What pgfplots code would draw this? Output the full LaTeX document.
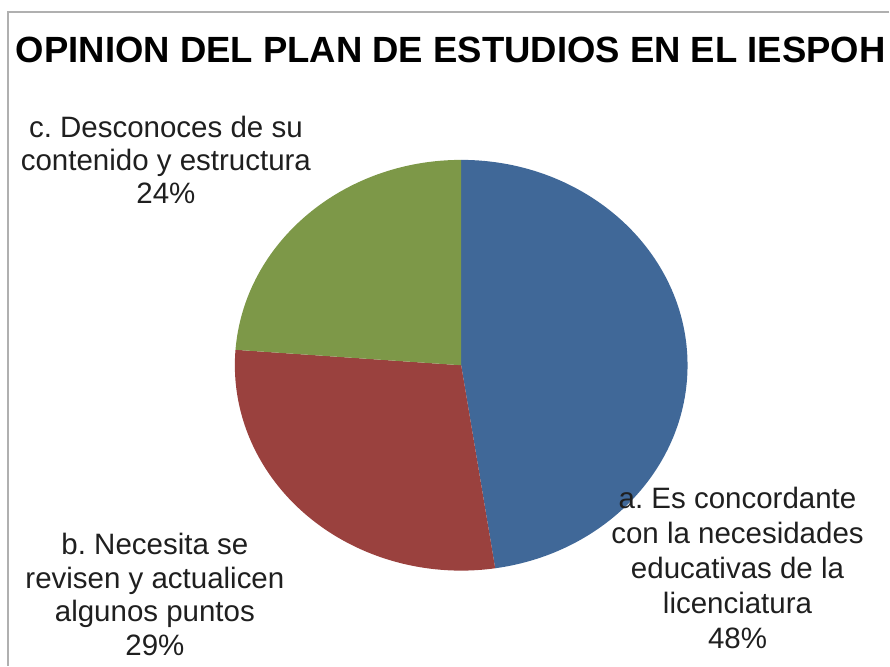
\documentclass[border=0pt]{standalone}
\usepackage{fontspec}
\setmainfont{Liberation Sans}
\usepackage{pgfplots}
\usepackage{pgfplotstable}
\pgfplotsset{compat=1.18}
\frenchspacing
\definecolor{sliceA}{RGB}{64,104,152}
\definecolor{sliceB}{RGB}{154,65,62}
\definecolor{sliceC}{RGB}{125,152,72}
\definecolor{frame}{RGB}{176,176,176}
\pgfplotstableread{
label value
a 47.6
b 28.6
c 23.8
}\piedata
\begin{document}
\begin{tikzpicture}
\pgfplotstablegetelem{0}{value}\of\piedata \let\va\pgfplotsretval
\pgfplotstablegetelem{1}{value}\of\piedata \let\vb\pgfplotsretval
\pgfplotstablegetelem{2}{value}\of\piedata \let\vc\pgfplotsretval
\pgfmathsetmacro\aS{90}
\pgfmathsetmacro\aE{90-3.6*\va}
\pgfmathsetmacro\bE{\aE-3.6*\vb}
\pgfmathsetmacro\cE{\bE-3.6*\vc}
\def\cx{461.5}\def\cy{300.5}
\begin{axis}[width=890pt,height=666pt,scale only axis,
  xmin=0,xmax=890,ymin=0,ymax=666,hide axis,clip=false]
\path (axis cs:0,0) rectangle (axis cs:890,666);
\fill[sliceA] (axis cs:\cx,\cy) -- ([shift={(\aS:226.5pt and 205.5pt)}]axis cs:\cx,\cy)
  arc[start angle=\aS,end angle=\aE,x radius=226.5pt,y radius=205.5pt] -- cycle;
\fill[sliceB] (axis cs:\cx,\cy) -- ([shift={(\aE:226.5pt and 205.5pt)}]axis cs:\cx,\cy)
  arc[start angle=\aE,end angle=\bE,x radius=226.5pt,y radius=205.5pt] -- cycle;
\fill[sliceC] (axis cs:\cx,\cy) -- ([shift={(\bE:226.5pt and 205.5pt)}]axis cs:\cx,\cy)
  arc[start angle=\bE,end angle=\cE,x radius=226.5pt,y radius=205.5pt] -- cycle;
\draw[frame,line width=1.2pt] (axis cs:890,654) -- (axis cs:8,654) -- (axis cs:8,0);
\node[font=\fontsize{36.5}{40}\selectfont\bfseries,anchor=center] at (axis cs:451,616)
  {OPINION DEL PLAN DE ESTUDIOS EN EL IESPOH};
\node[font=\fontsize{29.5}{33.5}\selectfont,align=center,text=black!88] at (axis cs:166,506)
  {c. Desconoces de su\\contenido y estructura\\24\%};
\node[font=\fontsize{29.5}{33.5}\selectfont,align=center,text=black!88] at (axis cs:155,71)
  {b. Necesita se\\revisen y actualicen\\algunos puntos\\29\%};
\node[font=\fontsize{29.5}{35}\selectfont,align=center,text=black!88] at (axis cs:738,98)
  {a. Es concordante\\con la necesidades\\educativas de la\\licenciatura\\48\%};
\end{axis}
\end{tikzpicture}
\end{document}
